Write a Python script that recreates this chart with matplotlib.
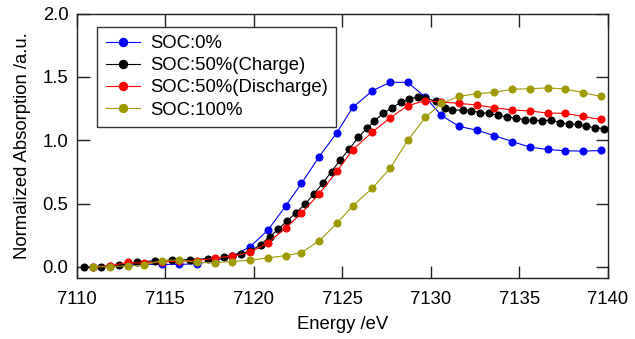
import matplotlib
matplotlib.use("Agg")
import matplotlib.pyplot as plt

plt.rcParams['font.family'] = ['Liberation Sans', 'DejaVu Sans']

# Energy grids (eV)
energy_1ev = [7110.9, 7111.9, 7112.9, 7113.8, 7114.8, 7115.8, 7116.8, 7117.8, 7118.8, 7119.8,
              7120.8, 7121.8, 7122.7, 7123.7, 7124.7, 7125.6, 7126.7, 7127.7, 7128.7, 7129.7,
              7130.6, 7131.6, 7132.6, 7133.6, 7134.6, 7135.6, 7136.6, 7137.6, 7138.6, 7139.6]

energy_black = [7110.4, 7111.4, 7112.4, 7113.4, 7114.4, 7115.4, 7116.4, 7117.4, 7118.3, 7118.8,
                7119.3, 7119.8, 7120.4, 7120.9, 7121.4, 7121.9, 7122.4, 7122.9, 7123.4, 7123.9,
                7124.4, 7124.9, 7125.4, 7125.9, 7126.4, 7126.8, 7127.3, 7127.8, 7128.3, 7128.8,
                7129.3, 7129.7, 7130.3, 7130.8, 7131.2, 7131.8, 7132.3, 7132.8, 7133.3, 7133.8,
                7134.3, 7134.8, 7135.3, 7135.8, 7136.3, 7136.8, 7137.3, 7137.8, 7138.3, 7138.8,
                7139.3, 7139.8]

soc0 = [0.0, 0.005, 0.015, 0.02, 0.02, 0.02, 0.025, 0.05, 0.085, 0.16,
        0.29, 0.48, 0.66, 0.87, 1.06, 1.26, 1.39, 1.457, 1.457, 1.34,
        1.196, 1.109, 1.08, 1.036, 0.99, 0.946, 0.927, 0.917, 0.914, 0.919]

soc50_charge = [0.0, 0.003, 0.012, 0.035, 0.05, 0.052, 0.058, 0.065, 0.075, 0.09,
                0.105, 0.125, 0.175, 0.24, 0.298, 0.366, 0.429, 0.495, 0.577, 0.661,
                0.753, 0.846, 0.93, 1.022, 1.096, 1.149, 1.212, 1.254, 1.30, 1.327,
                1.343, 1.333, 1.307, 1.254, 1.241, 1.236, 1.233, 1.217, 1.212, 1.196,
                1.183, 1.173, 1.162, 1.16, 1.154, 1.16, 1.138, 1.128, 1.128, 1.109,
                1.099, 1.091]

soc50_discharge = [0.0, 0.01, 0.035, 0.03, 0.04, 0.045, 0.05, 0.07, 0.085, 0.115,
                   0.19, 0.306, 0.424, 0.577, 0.754, 0.925, 1.065, 1.175, 1.273, 1.312,
                   1.302, 1.291, 1.278, 1.257, 1.239, 1.231, 1.215, 1.212, 1.188, 1.164]

soc100 = [0.0, 0.003, 0.008, 0.013, 0.05, 0.055, 0.035, 0.034, 0.042, 0.053,
          0.071, 0.089, 0.113, 0.206, 0.345, 0.482, 0.622, 0.777, 0.998, 1.18,
          1.291, 1.346, 1.368, 1.378, 1.402, 1.407, 1.413, 1.405, 1.376, 1.346]

labels = ["SOC:0%", "SOC:50%(Charge)", "SOC:50%(Discharge)", "SOC:100%"]
colors = ["#0000ff", "#000000", "#ff0000", "#9e9a00"]

x_ticks = [7110, 7115, 7120, 7125, 7130, 7135, 7140]
y_ticks = [0.0, 0.5, 1.0, 1.5, 2.0]

fig = plt.figure(figsize=(6.35, 3.39), dpi=100)
ax = fig.add_axes([0.1208, 0.179, 0.8362, 0.781])

series = [(energy_1ev, soc0), (energy_black, soc50_charge),
          (energy_1ev, soc50_discharge), (energy_1ev, soc100)]
for (x, y), lab, c in zip(series, labels, colors):
    ax.plot(x, y, '-o', color=c, lw=0.8, ms=4.8, mec=c, mfc=c, label=lab, clip_on=False)

ax.set_xlim(7110, 7140)
ax.set_ylim(-0.09, 2.0)
ax.set_xticks(x_ticks)
ax.set_yticks(y_ticks)
ax.set_yticklabels([f"{v:.1f}" for v in y_ticks])

ax.tick_params(direction='in', length=9, width=1, labelsize=13.3, top=True, right=True,
               colors='#222222', labelcolor='black')
ax.tick_params(axis='x', pad=9)
ax.tick_params(axis='y', pad=6)
for s in ax.spines.values():
    s.set_linewidth(1.0)
    s.set_color('#222222')

ax.set_xlabel("Energy /eV", fontsize=13.3, labelpad=6)
ax.set_ylabel("Normalized Absorption /a.u.", fontsize=13.3, labelpad=8)

leg = ax.legend(loc='upper left', bbox_to_anchor=(0.0388, 0.950), borderaxespad=0,
                fontsize=13.3, frameon=True, fancybox=False, shadow=False,
                handlelength=1.85, handletextpad=0.55, labelspacing=0.28,
                borderpad=0.45, markerscale=1.2)
leg.get_frame().set_edgecolor('black')
leg.get_frame().set_linewidth(1.0)

fig.savefig("out.png", dpi=100)
